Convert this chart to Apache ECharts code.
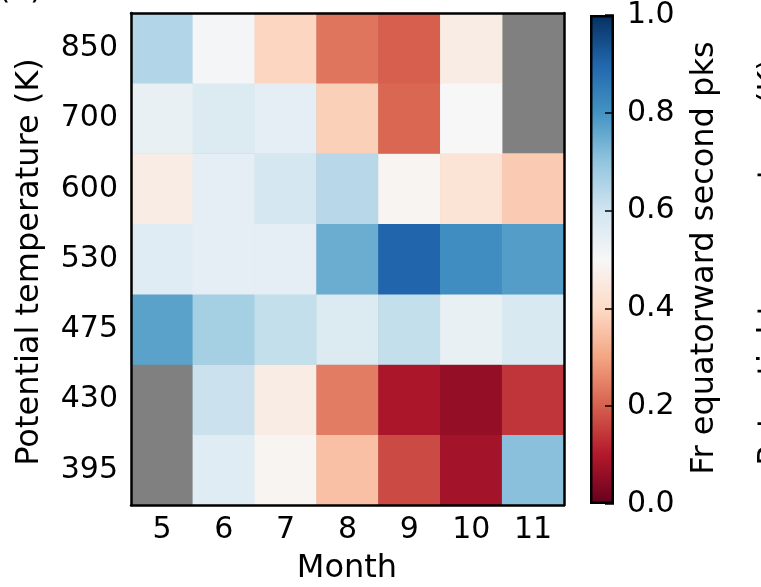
<!DOCTYPE html>
<html>
<head>
<meta charset="utf-8">
<script src="https://cdn.jsdelivr.net/npm/echarts@6/dist/echarts.min.js"></script>
<style>html,body{margin:0;padding:0;background:#fff;}#c{width:761px;height:587px;}</style>
</head>
<body>
<div id="c"></div>
<script>
const months = ['5', '6', '7', '8', '9', '10', '11'];
const levels = ['395', '430', '475', '530', '600', '700', '850'];
// fraction per month (5..11) for each level; null = no data (grey)
const row395 = [null, 0.56, 0.49, 0.35, 0.17, 0.08, 0.71];
const row430 = [null, 0.61, 0.46, 0.24, 0.09, 0.06, 0.14];
const row475 = [0.77, 0.67, 0.62, 0.57, 0.62, 0.54, 0.58];
const row530 = [0.56, 0.55, 0.55, 0.75, 0.90, 0.81, 0.78];
const row600 = [0.46, 0.55, 0.59, 0.64, 0.49, 0.43, 0.37];
const row700 = [0.54, 0.57, 0.55, 0.38, 0.21, 0.50, null];
const row850 = [0.65, 0.51, 0.39, 0.23, 0.20, 0.46, null];
const cbTicks = [0, 0.2, 0.4, 0.6, 0.8, 1.0];

const rows = [row395, row430, row475, row530, row600, row700, row850];
const rdbu = ['#67001f','#b2182b','#d6604d','#f4a582','#fddbc7','#f7f7f7','#d1e5f0','#92c5de','#4393c3','#2166ac','#053061'];
const data = [];
rows.forEach((r, yi) => r.forEach((v, xi) => data.push([xi, yi, v === null ? '-' : v])));

const FONT = 'DejaVu Sans';
const LF = '32px "DejaVu Sans"';
const tick = {inside: true, length: 9, alignWithLabel: true, lineStyle: {color: '#000', width: 1.5}};
const line = {show: true, onZero: false, lineStyle: {color: '#000', width: 2.5}};
const lbl = {color: '#000', fontSize: 30, fontFamily: FONT};

const chart = echarts.init(document.getElementById('c'), null, {renderer: 'canvas'});
chart.setOption({
  animation: false,
  backgroundColor: '#fff',
  grid: [
    {left: 131, right: 197, top: 13, bottom: 82, show: true, backgroundColor: '#808080', borderWidth: 0},
    {left: 590, width: 24, top: 13, height: 491}
  ],
  xAxis: [
    {type: 'category', data: months, gridIndex: 0, position: 'bottom', z: 5,
     axisLine: line, axisTick: tick, axisLabel: Object.assign({margin: 10}, lbl), splitLine: {show: false}},
    {type: 'category', data: months, gridIndex: 0, position: 'top', z: 5,
     axisLine: line, axisTick: tick, axisLabel: {show: false}, splitLine: {show: false}},
    {type: 'category', data: ['cb'], gridIndex: 1, show: false}
  ],
  yAxis: [
    {type: 'category', data: levels, gridIndex: 0, position: 'left', z: 5,
     axisLine: line, axisTick: tick, axisLabel: Object.assign({margin: 13}, lbl), splitLine: {show: false}},
    {type: 'category', data: levels, gridIndex: 0, position: 'right', z: 5,
     axisLine: line, axisTick: tick, axisLabel: {show: false}, splitLine: {show: false}},
    {type: 'value', gridIndex: 1, position: 'right', min: 0, max: 1, interval: 0.2, z: 5,
     axisLine: {show: false},
     axisTick: {show: true, inside: true, length: 9, lineStyle: {color: '#000', width: 1.5}},
     axisLabel: Object.assign({margin: 13, formatter: v => v.toFixed(1)}, lbl),
     splitLine: {show: false}}
  ],
  visualMap: {show: false, seriesIndex: 0, min: 0, max: 1, inRange: {color: rdbu}},
  series: [
    {type: 'heatmap', xAxisIndex: 0, yAxisIndex: 0, data: data, emphasis: {disabled: true},
     itemStyle: {borderWidth: 0}},
    {type: 'bar', xAxisIndex: 2, yAxisIndex: 2, data: [cbTicks[cbTicks.length - 1]], barWidth: '100%',
     silent: true,
     itemStyle: {
       borderColor: '#000', borderWidth: 2.5,
       color: new echarts.graphic.LinearGradient(0, 1, 0, 0,
         rdbu.map((c, i) => ({offset: i / (rdbu.length - 1), color: c})))
     }}
  ],
  graphic: [
    {type: 'text', x: 30, y: 262, rotation: Math.PI / 2,
     style: {text: 'Potential temperature (K)', font: LF, fill: '#000', align: 'center', verticalAlign: 'middle'}},
    {type: 'text', x: 347, y: 569,
     style: {text: 'Month', font: LF, fill: '#000', align: 'center', verticalAlign: 'middle'}},
    {type: 'text', x: 705, y: 258, rotation: Math.PI / 2,
     style: {text: 'Fr equatorward second pks', font: LF, fill: '#000', align: 'center', verticalAlign: 'middle'}},
    {type: 'text', x: 772, y: 262, rotation: Math.PI / 2,
     style: {text: 'Potential temperature (K)', font: LF, fill: '#000', align: 'center', verticalAlign: 'middle'}},
    {type: 'text', x: -2, y: 6,
     style: {text: '(a)', font: LF, fill: '#000', align: 'left', verticalAlign: 'bottom'}}
  ]
});
</script>
</body>
</html>
